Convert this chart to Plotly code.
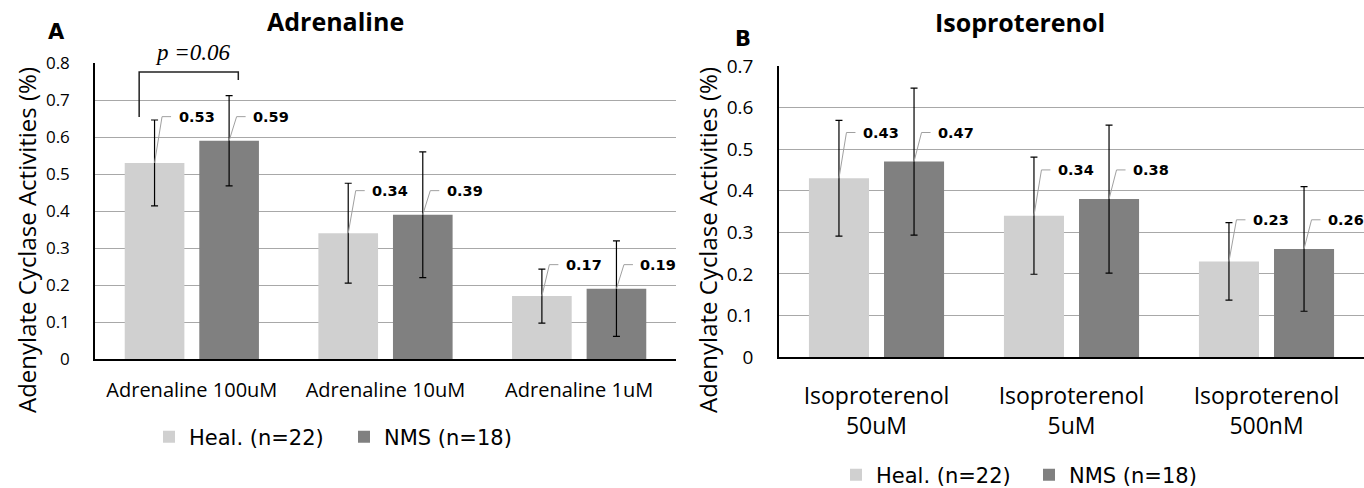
import plotly.graph_objects as go

# ---- data -------------------------------------------------------------
categories_a = ["Adrenaline 100uM", "Adrenaline 10uM", "Adrenaline 1uM"]
heal_a = [0.53, 0.34, 0.17]
nms_a = [0.59, 0.39, 0.19]
heal_a_err = [0.116, 0.135, 0.073]
nms_a_err = [0.122, 0.170, 0.129]

categories_b = ["Isoproterenol<br>50uM", "Isoproterenol<br>5uM", "Isoproterenol<br>500nM"]
heal_b = [0.43, 0.34, 0.23]
nms_b = [0.47, 0.38, 0.26]
heal_b_err = [0.139, 0.141, 0.093]
nms_b_err = [0.177, 0.178, 0.150]

series_names = ["Heal. (n=22)", "NMS (n=18)"]
p_text = "p =0.06"

# ---- styling ----------------------------------------------------------
W, H = 1364, 488
HEAL_COLOR = "#d0d0d0"
NMS_COLOR = "#808080"
GRID_COLOR = "#a8a8a8"
LEADER_COLOR = "#a0a0a0"
BARGAP = 0.23
BARGROUPGAP = 0.2
SLOT = (1 - BARGAP) / 2          # width of one series slot, in category units

# plot-area pixel boxes (left, right, top, bottom)
box_a = (95, 676, 63, 359)
box_b = (779, 1364, 66, 357)


def xdom(box):
    return [box[0] / W, box[1] / W]


def ydom(box):
    return [1 - box[3] / H, 1 - box[2] / H]


fig = go.Figure()


def add_panel(cats, heal, nms, heal_err, nms_err, xa, ya, legend, box, label_pad):
    xs = list(range(len(cats)))
    for name, vals, errs, color in (
        (series_names[0], heal, heal_err, HEAL_COLOR),
        (series_names[1], nms, nms_err, NMS_COLOR),
    ):
        fig.add_trace(go.Bar(
            x=xs, y=vals, name=name, marker=dict(color=color, line=dict(width=0)),
            error_y=dict(type="data", array=errs, visible=True, color="black",
                         thickness=1.2, width=3.5),
            xaxis=xa, yaxis=ya, legend=legend, offsetgroup=name,
        ))

    # value labels with bent leader lines
    ppc = (box[1] - box[0]) / len(cats)       # pixels per category
    d1, d2, d3 = 7.5 / ppc, 16.5 / ppc, 22.0 / ppc
    for i in xs:
        ly = max(heal[i], nms[i]) + label_pad
        for off, v in ((-SLOT / 2, heal[i]), (SLOT / 2, nms[i])):
            cx = i + off
            fig.add_trace(go.Scatter(
                x=[cx, cx + d1, cx + d2], y=[v, ly, ly], mode="lines",
                line=dict(color=LEADER_COLOR, width=1), hoverinfo="skip",
                showlegend=False, xaxis=xa, yaxis=ya,
            ))
            fig.add_annotation(
                x=cx + d3, y=ly, xref=xa, yref=ya, text=f"<b>{v:.2f}</b>",
                showarrow=False, xanchor="left", yanchor="middle",
                font=dict(family="DejaVu Sans", size=14.5, color="black"),
            )
    return xs


xs_a = add_panel(categories_a, heal_a, nms_a, heal_a_err, nms_a_err,
                 "x", "y", "legend", box_a, 0.065)
xs_b = add_panel(categories_b, heal_b, nms_b, heal_b_err, nms_b_err,
                 "x2", "y2", "legend2", box_b, 0.07)

# significance bracket over the first adrenaline group
fig.add_trace(go.Scatter(
    x=[-0.272, -0.272, 0.24, 0.24], y=[0.654, 0.776, 0.776, 0.754], mode="lines",
    line=dict(color="#222222", width=1.5), hoverinfo="skip", showlegend=False,
    xaxis="x", yaxis="y",
))
fig.add_annotation(x=193 / W, y=1 - 52 / H, xref="paper", yref="paper",
                   text=f"<i>{p_text}</i>", showarrow=False,
                   xanchor="center", yanchor="middle",
                   font=dict(family="Liberation Serif", size=23, color="black"))

axis_common = dict(showline=True, linecolor="black", linewidth=1.5, mirror=False,
                   ticks="", zeroline=False, automargin=False)

fig.update_layout(
    width=W, height=H, margin=dict(l=0, r=0, t=0, b=0, autoexpand=False),
    paper_bgcolor="white", plot_bgcolor="white",
    barmode="group", bargap=BARGAP, bargroupgap=BARGROUPGAP,
    font=dict(family="Open Sans", color="black"),
    xaxis=dict(domain=xdom(box_a), anchor="y", range=[-0.5, 2.5], tickvals=xs_a,
               ticktext=categories_a, showgrid=False, ticklabelstandoff=12,
               tickfont=dict(size=20), **axis_common),
    yaxis=dict(domain=ydom(box_a), anchor="x", range=[0, 0.8], dtick=0.1,
               tickformat=".1~f", showgrid=True, gridcolor=GRID_COLOR, gridwidth=1,
               ticklabelstandoff=20, tickfont=dict(size=17), **axis_common),
    xaxis2=dict(domain=xdom(box_b), anchor="y2", range=[-0.5, 2.5], tickvals=xs_b,
                ticktext=categories_b, showgrid=False, ticklabelstandoff=18,
                tickfont=dict(size=23), **axis_common),
    yaxis2=dict(domain=ydom(box_b), anchor="x2", range=[0, 0.7], dtick=0.1,
                tickformat=".1~f", showgrid=True, gridcolor=GRID_COLOR, gridwidth=1,
                ticklabelstandoff=20, tickfont=dict(size=19), **axis_common),
    legend=dict(orientation="h", x=149 / W, xanchor="left", y=1 - 437 / H,
                yanchor="middle", font=dict(family="DejaVu Sans", size=21),
                entrywidth=150, bgcolor="rgba(0,0,0,0)"),
    legend2=dict(orientation="h", x=836 / W, xanchor="left", y=1 - 475 / H,
                 yanchor="middle", font=dict(family="DejaVu Sans", size=21),
                 entrywidth=148, bgcolor="rgba(0,0,0,0)"),
    showlegend=True,
)

# panel titles, panel letters and y-axis titles
for text, x, y, size, fam in (
    ("<b>Adrenaline</b>", 335, 21, 25, "Open Sans"),
    ("<b>Isoproterenol</b>", 1020, 22, 25, "Open Sans"),
    ("<b>A</b>", 56, 32, 21, "DejaVu Sans"),
    ("<b>B</b>", 743, 39, 21, "DejaVu Sans"),
):
    fig.add_annotation(x=x / W, y=1 - y / H, xref="paper", yref="paper", text=text,
                       showarrow=False, xanchor="center", yanchor="middle",
                       font=dict(family=fam, size=size, color="black"))

for x in (26, 707):
    fig.add_annotation(x=x / W, y=1 - 240 / H, xref="paper", yref="paper",
                       text="Adenylate Cyclase Activities (%)", textangle=-90,
                       showarrow=False, xanchor="center", yanchor="middle",
                       font=dict(family="Open Sans", size=24, color="black"))

fig.write_html("out.html")
